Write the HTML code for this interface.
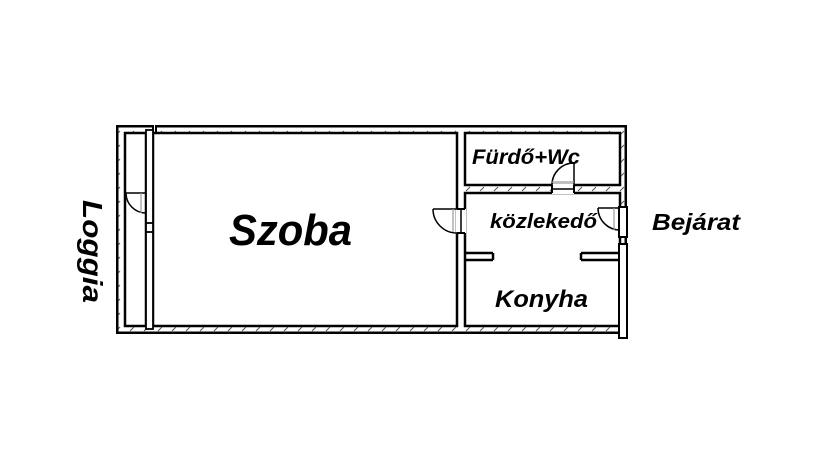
<!DOCTYPE html>
<html><head><meta charset="utf-8"><style>
html,body{margin:0;padding:0;background:#fff;}
svg{display:block}
text{font-family:"Liberation Sans",sans-serif;font-weight:bold;font-style:italic;fill:#000}
</style></head><body>
<svg width="822" height="466" viewBox="0 0 822 466" xmlns="http://www.w3.org/2000/svg">
<defs>
<pattern id="h" width="14" height="14" patternUnits="userSpaceOnUse">
<line x1="4" y1="9" x2="8" y2="5" stroke="#555" stroke-width="1"/>
</pattern>
</defs>
<rect x="116" y="125" width="511" height="209" fill="#000"/>
<rect x="118.5" y="127.5" width="506" height="204" fill="#fff"/>
<rect x="118.5" y="127.5" width="506" height="204" fill="url(#h)"/>
<rect x="153" y="124" width="3" height="4" fill="#fff"/>
<line x1="153" y1="125" x2="153" y2="133" stroke="#000" stroke-width="2"/>
<line x1="156" y1="125" x2="156" y2="133" stroke="#000" stroke-width="2"/>
<g fill="#fff" stroke="#000" stroke-width="2.5">
<rect x="125" y="133" width="21" height="193"/>
<rect x="153" y="133" width="304" height="193"/>
<rect x="465" y="133" width="155" height="52"/>
<polygon points="465,193 620,193 620,326 465,326"/>
</g>
<rect x="146" y="130" width="7" height="199" fill="#fff" stroke="#000" stroke-width="1.8"/>
<rect x="146" y="223" width="7" height="9" fill="#fff" stroke="#000" stroke-width="1.8"/>
<rect x="466.5" y="252" width="25" height="10" fill="#fff"/>
<rect x="582.5" y="252" width="36" height="10" fill="#fff"/>
<line x1="465" y1="253" x2="493" y2="253" stroke="#000" stroke-width="2.5"/>
<line x1="465" y1="260" x2="493" y2="260" stroke="#000" stroke-width="2.5"/>
<line x1="493" y1="253" x2="493" y2="260" stroke="#000" stroke-width="2.5"/>
<line x1="581" y1="253" x2="620" y2="253" stroke="#000" stroke-width="2.5"/>
<line x1="581" y1="260" x2="620" y2="260" stroke="#000" stroke-width="2.5"/>
<line x1="581" y1="253" x2="581" y2="260" stroke="#000" stroke-width="2.5"/>
<rect x="619" y="244" width="8" height="94" fill="#fff" stroke="#000" stroke-width="2"/>
<rect x="619" y="207" width="8" height="30" fill="#fff" stroke="#000" stroke-width="2"/>
<rect x="456" y="209" width="10" height="24" fill="#fff"/>
<line x1="457" y1="209" x2="465" y2="209" stroke="#000" stroke-width="2"/>
<line x1="457" y1="233" x2="465" y2="233" stroke="#000" stroke-width="2"/>
<line x1="461" y1="209" x2="461" y2="233" stroke="#000" stroke-width="1.5"/>
<path d="M433,209 L457,209 M433,209 A24,24 0 0 0 457,233" fill="none" stroke="#000" stroke-width="1.5"/>
<line x1="453" y1="209" x2="453" y2="232" stroke="#999" stroke-width="1.2"/>
<path d="M126,193 L146,193 M126,193 A20,20 0 0 0 146,213" fill="none" stroke="#000" stroke-width="1.5"/>
<line x1="141" y1="193" x2="141" y2="213" stroke="#999" stroke-width="1.2"/>
<rect x="552" y="184" width="22" height="10" fill="#fff"/>
<line x1="552" y1="185" x2="552" y2="193" stroke="#000" stroke-width="2"/>
<line x1="574" y1="185" x2="574" y2="193" stroke="#000" stroke-width="2"/>
<line x1="552" y1="189" x2="574" y2="189" stroke="#000" stroke-width="1.5"/>
<path d="M552,185 A22,22 0 0 1 574,163 L574,185" fill="none" stroke="#000" stroke-width="1.5"/>
<line x1="552" y1="182" x2="574" y2="182" stroke="#999" stroke-width="1.2"/>
<path d="M598,208 L620,208 M598,208 A22,22 0 0 0 620,230" fill="none" stroke="#000" stroke-width="1.5"/>
<line x1="614" y1="208" x2="614" y2="230" stroke="#999" stroke-width="1.2"/>
<text x="229" y="245" font-size="44" textLength="123" lengthAdjust="spacingAndGlyphs">Szoba</text>
<text x="472" y="164" font-size="21" textLength="108" lengthAdjust="spacingAndGlyphs">Fürdő+Wc</text>
<text x="490" y="228" font-size="20" textLength="107" lengthAdjust="spacingAndGlyphs">közlekedő</text>
<text x="495" y="307" font-size="24" textLength="93" lengthAdjust="spacingAndGlyphs">Konyha</text>
<text x="652" y="230" font-size="23" textLength="88" lengthAdjust="spacingAndGlyphs">Bejárat</text>
<text x="0" y="0" font-size="28" textLength="103" lengthAdjust="spacingAndGlyphs" transform="translate(83,200) rotate(90)">Loggia</text>
</svg>
</body></html>
